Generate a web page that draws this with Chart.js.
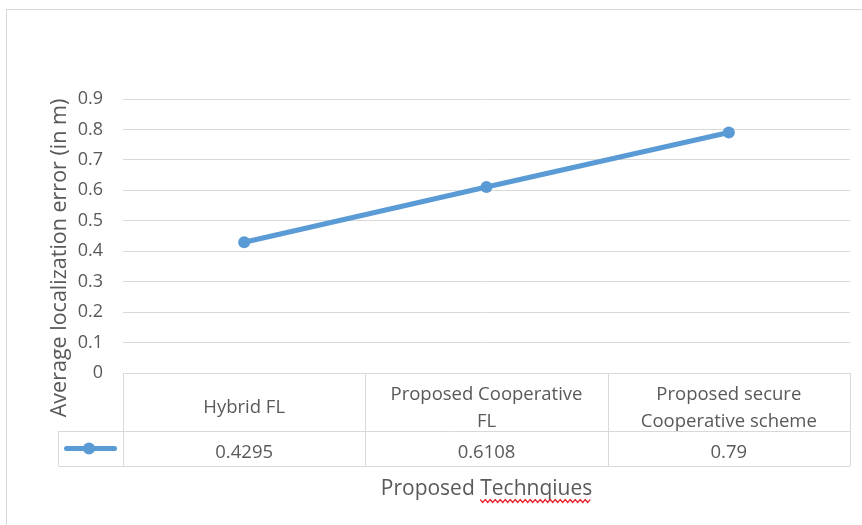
<!DOCTYPE html>
<html>
<head>
<meta charset="utf-8">
<script src="https://cdn.jsdelivr.net/npm/chart.js@4/dist/chart.umd.min.js"></script>
<style>
  html, body { margin: 0; padding: 0; background: #fff; }
  #wrap { width: 862px; height: 525px; }
</style>
</head>
<body>
<div id="wrap"><canvas id="errChart" width="862" height="525"></canvas></div>
<script>
// categories (one entry per table column, split into lines)
const techniques = [
  ['Hybrid FL'],
  ['Proposed Cooperative', 'FL'],
  ['Proposed secure', 'Cooperative scheme']
];
const avgError = [0.4295, 0.6108, 0.79];
const yTicks = [0, 0.1, 0.2, 0.3, 0.4, 0.5, 0.6, 0.7, 0.8, 0.9];

const xTitle = 'Proposed Technqiues';
const yTitle = 'Average localization error (in m)';

const BLUE = '#5b9bd5';
const TEXT = '#595959';
const GRID = '#d9d9d9';
const FONT = '"Open Sans", sans-serif';

// Excel-style data table under the plot, plus axis titles
const dataTable = {
  id: 'dataTable',
  beforeDraw(chart) {
    const ctx = chart.ctx;
    ctx.save();
    ctx.strokeStyle = GRID;
    ctx.lineWidth = 1;
    ctx.strokeRect(6.5, 9.5, 1000, 1000);
    ctx.restore();
  },
  afterDraw(chart) {
    const ctx = chart.ctx;
    const x = chart.scales.x;
    const area = chart.chartArea;
    const colW = (area.right - area.left) / techniques.length;
    const top = area.bottom;
    const catH = 58, valH = 35, keyW = 65;
    const rowY = top + catH, bot = rowY + valH;
    const L = Math.round(area.left) + 0.5;

    ctx.save();
    ctx.strokeStyle = GRID;
    ctx.lineWidth = 1;
    ctx.beginPath();
    // horizontal rules
    ctx.moveTo(L, top + 0.5); ctx.lineTo(area.right, top + 0.5);
    ctx.moveTo(L - keyW, rowY + 0.5); ctx.lineTo(area.right, rowY + 0.5);
    ctx.moveTo(L - keyW, bot + 0.5); ctx.lineTo(area.right, bot + 0.5);
    // vertical rules
    for (let i = 0; i <= techniques.length; i++) {
      const cx = Math.round(area.left + i * colW) + 0.5;
      ctx.moveTo(cx, top); ctx.lineTo(cx, bot);
    }
    ctx.moveTo(L - keyW, rowY); ctx.lineTo(L - keyW, bot);
    ctx.stroke();

    // cell text
    ctx.fillStyle = TEXT;
    ctx.font = '18.5px ' + FONT;
    ctx.textAlign = 'center';
    ctx.textBaseline = 'middle';
    const lh = 27;
    techniques.forEach((lines, i) => {
      const cx = x.getPixelForValue(i);
      const y0 = top + catH / 2 + 6 - (lines.length - 1) * lh / 2;
      lines.forEach((ln, j) => ctx.fillText(ln, cx, y0 + j * lh));
      ctx.fillText(String(avgError[i]), cx, rowY + valH / 2 + 4);
    });

    // legend key in the value row
    const ky = rowY + valH / 2;
    ctx.strokeStyle = BLUE;
    ctx.lineWidth = 5;
    ctx.lineCap = 'round';
    ctx.beginPath();
    ctx.moveTo(L - keyW + 8, ky); ctx.lineTo(L - 9, ky);
    ctx.stroke();
    ctx.fillStyle = BLUE;
    ctx.beginPath();
    ctx.arc(L - keyW / 2 - 2, ky, 6, 0, Math.PI * 2);
    ctx.fill();

    // x axis title with spell-check squiggle
    ctx.fillStyle = TEXT;
    ctx.font = '21px ' + FONT;
    const tx = (area.left + area.right) / 2;
    const ty = bot + 23;
    ctx.fillText(xTitle, tx, ty);
    const full = ctx.measureText(xTitle).width;
    const pre = ctx.measureText('Proposed ').width;
    const sx = tx - full / 2 + pre, ex = tx + full / 2;
    ctx.strokeStyle = '#e8232b';
    ctx.lineWidth = 1.2;
    ctx.lineCap = 'butt';
    ctx.beginPath();
    for (let px = sx, k = 0; px <= ex; px += 2.5, k++) {
      const py = ty + 12 + (k % 2 ? 1.5 : -1.5);
      if (k === 0) ctx.moveTo(px, py); else ctx.lineTo(px, py);
    }
    ctx.stroke();

    // y axis title
    ctx.save();
    ctx.translate(60, 258);
    ctx.rotate(-Math.PI / 2);
    ctx.fillStyle = TEXT;
    ctx.font = '21.5px ' + FONT;
    ctx.fillText(yTitle, 0, 0);
    ctx.restore();
    ctx.restore();
  }
};

new Chart(document.getElementById('errChart'), {
  type: 'line',
  data: {
    labels: techniques.map(l => l.join(' ')),
    datasets: [{
      label: 'Average localization error',
      data: avgError,
      borderColor: BLUE,
      backgroundColor: BLUE,
      borderWidth: 5,
      pointRadius: 6,
      pointBorderWidth: 0,
      pointBackgroundColor: BLUE,
      tension: 0
    }]
  },
  options: {
    responsive: false,
    animation: false,
    layout: { padding: { top: 99, right: 12, bottom: 152, left: 0 } },
    plugins: { legend: { display: false }, tooltip: { enabled: false } },
    scales: {
      x: {
        offset: true,
        afterFit(s) { s.height = 0; },
        grid: { display: false },
        border: { display: false },
        ticks: { display: false }
      },
      y: {
        min: 0,
        max: 0.9,
        afterFit(s) { s.width = 123; },
        afterBuildTicks(s) { s.ticks = yTicks.map(v => ({ value: v })); },
        grid: { color: GRID, drawTicks: false },
        border: { display: false },
        ticks: {
          color: TEXT,
          padding: 20,
          font: { family: FONT, size: 18 },
          callback: v => String(v)
        }
      }
    }
  },
  plugins: [dataTable]
});
</script>
</body>
</html>
